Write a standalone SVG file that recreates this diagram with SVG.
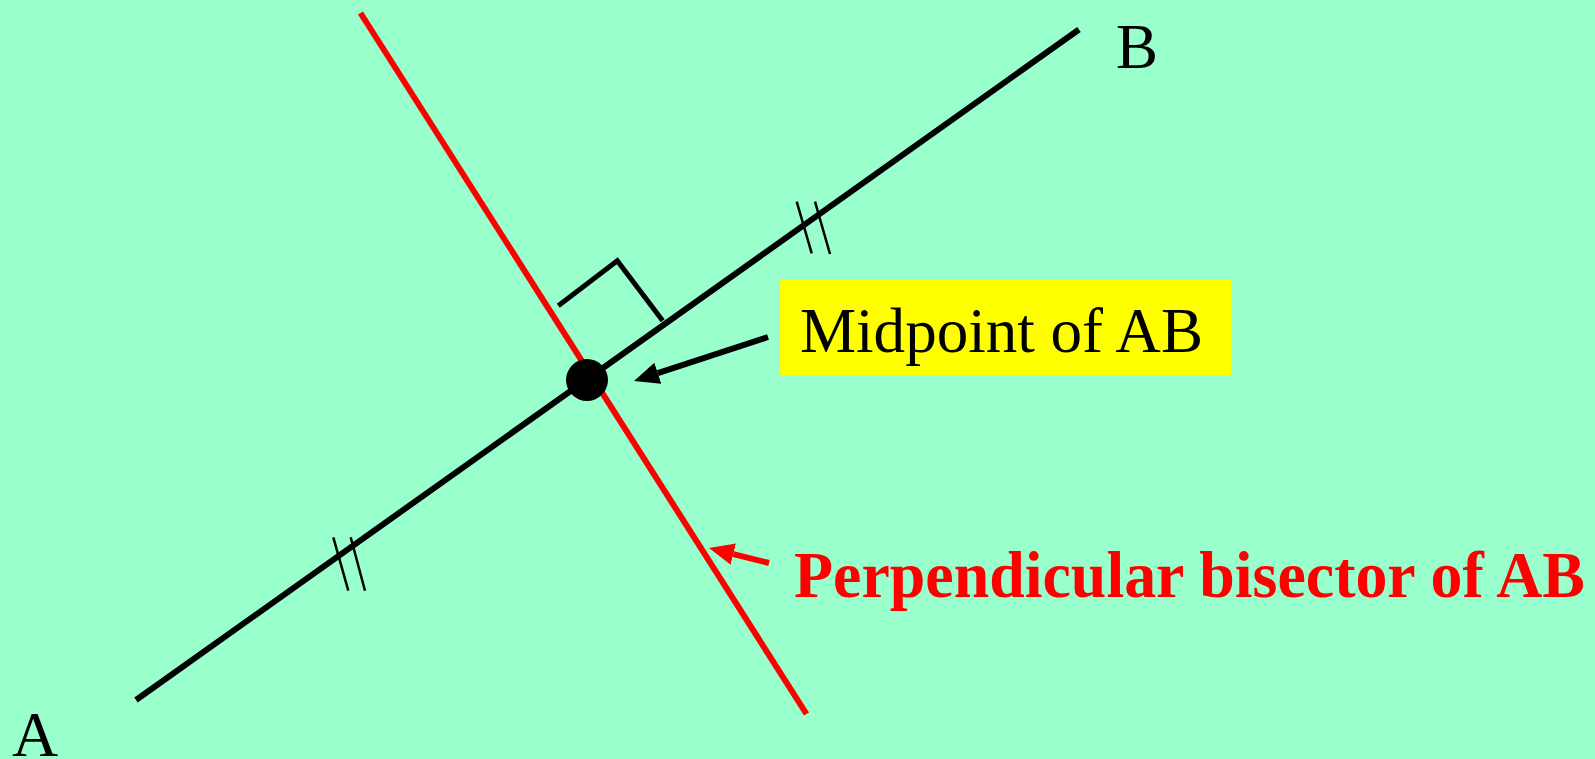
<svg xmlns="http://www.w3.org/2000/svg" width="1595" height="759" viewBox="0 0 1595 759">
  <style>
    .lbl { font-family: "Liberation Serif", "Times New Roman", serif; fill: #000; }
    .seg { stroke: #000; stroke-width: 6; fill: none; }
    .red { stroke: #ff0000; stroke-width: 6; fill: none; }
    .tick { stroke: #000; stroke-width: 2.5; }
  </style>
  <defs>
    <marker id="ahBlack" viewBox="0 -11 25 22" refX="0" refY="0" markerWidth="25" markerHeight="22" markerUnits="userSpaceOnUse" orient="auto">
      <path d="M0,-11 L25,0 L0,11 z" fill="#000"/>
    </marker>
    <marker id="ahRed" viewBox="0 -11 25 22" refX="0" refY="0" markerWidth="25" markerHeight="22" markerUnits="userSpaceOnUse" orient="auto">
      <path d="M0,-11 L25,0 L0,11 z" fill="#ff0000"/>
    </marker>
  </defs>
  <rect width="1595" height="759" fill="#99ffcc"/>

  <g id="connectors">
    <line id="bisector" class="red" x1="360.5" y1="13" x2="806.5" y2="714"/>
    <line id="segmentAB" class="seg" x1="136" y1="700" x2="1079" y2="29.5"/>
    <polyline id="rightAngle" points="558.3,305.7 617.3,260.7 662.7,320.7" stroke="#000" stroke-width="5" fill="none"/>
    <line class="tick" x1="796.7" y1="201.7" x2="811.7" y2="253.3"/>
    <line class="tick" x1="815" y1="201.7" x2="830" y2="254"/>
    <line class="tick" x1="333.3" y1="537.3" x2="348.3" y2="590.7"/>
    <line class="tick" x1="350.7" y1="537.3" x2="365" y2="590.7"/>
    <line id="midArrow" stroke="#000" stroke-width="6" x1="768" y1="337" x2="657.8" y2="373.2" marker-end="url(#ahBlack)"/>
    <line id="bisArrow" stroke="#ff0000" stroke-width="6" x1="769" y1="563" x2="733.3" y2="554.1" marker-end="url(#ahRed)"/>
  </g>

  <g id="midpoint">
    <circle cx="587" cy="380" r="21" fill="#000"/>
  </g>

  <g id="labelA">
    <text class="lbl" x="12" y="756" font-size="64">A</text>
  </g>
  <g id="labelB">
    <text class="lbl" x="1116" y="68" font-size="63">B</text>
  </g>

  <g id="midpointLabel">
    <rect x="780" y="280" width="451" height="95" fill="#ffff00"/>
    <text class="lbl" x="800" y="351.5" font-size="63" textLength="403" lengthAdjust="spacingAndGlyphs">Midpoint of AB</text>
  </g>

  <g id="bisectorLabel">
    <text x="794" y="596.5" font-family="Liberation Serif, 'Times New Roman', serif" font-weight="bold" font-size="66" fill="#ff0000" textLength="791" lengthAdjust="spacingAndGlyphs">Perpendicular bisector of AB</text>
  </g>
</svg>
